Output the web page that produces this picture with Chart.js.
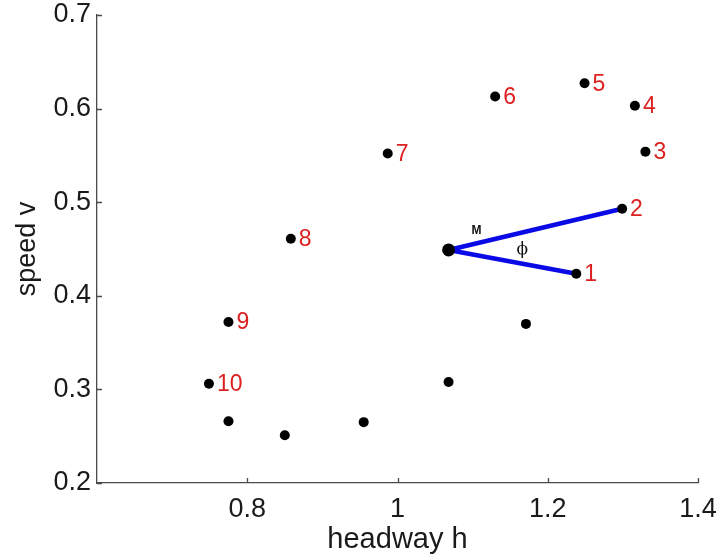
<!DOCTYPE html>
<html>
<head>
<meta charset="utf-8">
<script src="https://cdn.jsdelivr.net/npm/chart.js@4/dist/chart.umd.min.js"></script>
<style>
  html, body { margin: 0; padding: 0; background: #ffffff; }
  #wrap { width: 721px; height: 559px; position: relative; }
</style>
</head>
<body>
<div id="wrap"><canvas id="c" width="721" height="559"></canvas></div>
<script>
// ---- data ----
const headway = [1.238, 1.299, 1.330, 1.316, 1.249, 1.130, 0.987, 0.858, 0.775, 0.749, 0.775, 0.850, 0.955, 1.068, 1.171];
const speed   = [0.4235, 0.493, 0.554, 0.603, 0.627, 0.613, 0.552, 0.461, 0.372, 0.306, 0.266, 0.251, 0.265, 0.308, 0.370];
const pointLabels = ['1', '2', '3', '4', '5', '6', '7', '8', '9', '10', '', '', '', '', ''];
const centerH = [1.068];
const centerV = [0.449];
const xTickValues = [0.8, 1.0, 1.2, 1.4];
const xTickLabels = ['0.8', '1', '1.2', '1.4'];
const yTickValues = [0.2, 0.3, 0.4, 0.5, 0.6, 0.7];
const yTickLabels = ['0.2', '0.3', '0.4', '0.5', '0.6', '0.7'];
const noteTexts = ['M', '\u03D5'];
const noteH = [1.105, 1.166];
const noteV = [0.4695, 0.449];

const FONT = "'Liberation Sans', Arial, Helvetica, sans-serif";
const AXIS_COLOR = '#4a4a4a';
const TEXT_COLOR = '#1a1a1a';

const pts = headway.map((h, i) => ({ x: h, y: speed[i] }));
const center = { x: centerH[0], y: centerV[0] };
const vLines = [pts[0], center, pts[1]];

const inwardTicks = {
  id: 'inwardTicks',
  afterDraw(chart) {
    const { ctx, chartArea, scales } = chart;
    ctx.save();
    ctx.strokeStyle = AXIS_COLOR;
    ctx.lineWidth = 1.3;
    ctx.beginPath();
    yTickValues.forEach(v => {
      const y = Math.round(scales.y.getPixelForValue(v)) + 0.5;
      ctx.moveTo(chartArea.left, y);
      ctx.lineTo(chartArea.left + 5, y);
    });
    xTickValues.forEach(v => {
      const x = Math.round(scales.x.getPixelForValue(v)) + 0.5;
      ctx.moveTo(x, chartArea.bottom);
      ctx.lineTo(x, chartArea.bottom - 5);
    });
    ctx.stroke();
    ctx.restore();
  }
};

const pointText = {
  id: 'pointText',
  afterDatasetsDraw(chart) {
    const { ctx, scales } = chart;
    const meta = chart.getDatasetMeta(1);
    ctx.save();
    ctx.fillStyle = '#dd2020';
    ctx.font = '23px ' + FONT;
    ctx.textBaseline = 'middle';
    ctx.textAlign = 'left';
    meta.data.forEach((el, i) => {
      if (pointLabels[i]) ctx.fillText(pointLabels[i], el.x + 8, el.y + 1);
    });
    ctx.fillStyle = '#111';
    ctx.textAlign = 'center';
    ctx.font = 'bold 12px ' + FONT;
    ctx.fillText(noteTexts[0], scales.x.getPixelForValue(noteH[0]), scales.y.getPixelForValue(noteV[0]));
    ctx.font = "17px 'DejaVu Serif', 'Liberation Serif', serif";
    ctx.fillText(noteTexts[1], scales.x.getPixelForValue(noteH[1]), scales.y.getPixelForValue(noteV[1]));
    ctx.restore();
  }
};

new Chart(document.getElementById('c'), {
  type: 'scatter',
  data: {
    datasets: [
      {
        type: 'line',
        data: vLines,
        showLine: true,
        borderColor: '#0a0ae6',
        borderWidth: 4.5,
        borderJoinStyle: 'round',
        borderCapStyle: 'round',
        pointRadius: 0,
        fill: false,
        tension: 0,
        order: 3
      },
      {
        data: pts,
        backgroundColor: '#000000',
        borderColor: '#000000',
        pointRadius: 5,
        borderWidth: 0,
        order: 2
      },
      {
        data: [center],
        backgroundColor: '#000000',
        borderColor: '#000000',
        pointRadius: 6.5,
        borderWidth: 0,
        order: 1
      }
    ]
  },
  options: {
    responsive: false,
    animation: false,
    devicePixelRatio: 1,
    layout: { padding: { top: 15, right: 23, bottom: 0, left: 0 } },
    plugins: { legend: { display: false }, tooltip: { enabled: false } },
    scales: {
      x: {
        type: 'linear',
        min: 0.6,
        max: 1.4,
        afterBuildTicks: s => { s.ticks = xTickValues.map(v => ({ value: v })); },
        afterFit: s => { s.height = 76; s.paddingLeft = 0; s.paddingRight = 0; },
        ticks: {
          padding: 10,
          color: TEXT_COLOR,
          font: { family: FONT, size: 27 },
          maxRotation: 0,
          autoSkip: false,
          callback: (v) => { const i = xTickValues.findIndex(t => Math.abs(t - v) < 1e-9); return i >= 0 ? xTickLabels[i] : ''; }
        },
        grid: { display: true, drawOnChartArea: false, drawTicks: false },
        border: { display: true, color: AXIS_COLOR, width: 1.3 },
        title: {
          display: true,
          text: 'headway h',
          color: TEXT_COLOR,
          font: { family: FONT, size: 29, lineHeight: 1.2 },
          padding: { top: 0, bottom: 2 }
        }
      },
      y: {
        type: 'linear',
        min: 0.2,
        max: 0.7,
        afterBuildTicks: s => { s.ticks = yTickValues.map(v => ({ value: v })); },
        afterFit: s => { s.width = 97; s.paddingTop = 0; s.paddingBottom = 0; },
        ticks: {
          padding: 6,
          color: TEXT_COLOR,
          font: { family: FONT, size: 27 },
          autoSkip: false,
          callback: (v) => { const i = yTickValues.findIndex(t => Math.abs(t - v) < 1e-9); return i >= 0 ? yTickLabels[i] : ''; }
        },
        grid: { display: true, drawOnChartArea: false, drawTicks: false },
        border: { display: true, color: AXIS_COLOR, width: 1.3 },
        title: {
          display: true,
          text: 'speed v',
          color: TEXT_COLOR,
          font: { family: FONT, size: 27, lineHeight: 1.2 },
          padding: { top: 11, bottom: 0 }
        }
      }
    }
  },
  plugins: [inwardTicks, pointText]
});
</script>
</body>
</html>
